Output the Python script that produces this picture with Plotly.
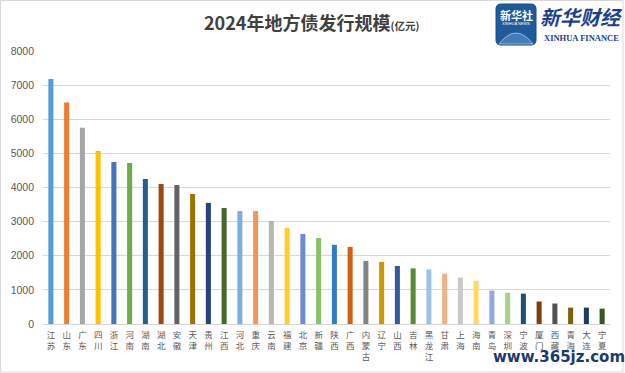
import plotly.graph_objects as go

categories = ["江苏", "山东", "广东", "四川", "浙江", "河南", "湖南", "湖北", "安徽", "天津",
              "贵州", "江西", "河北", "重庆", "云南", "福建", "北京", "新疆", "陕西", "广西",
              "内蒙古", "辽宁", "山西", "吉林", "黑龙江", "甘肃", "上海", "海南", "青岛", "深圳",
              "宁波", "厦门", "西藏", "青海", "大连", "宁夏"]
values = [7180, 6490, 5750, 5070, 4750, 4720, 4250, 4100, 4070, 3810,
          3550, 3400, 3310, 3310, 3020, 2820, 2640, 2520, 2320, 2260,
          1850, 1820, 1700, 1630, 1600, 1480, 1360, 1270, 980, 920,
          890, 660, 600, 480, 480, 450]
colors = ["#5B9BD5", "#ED7D31", "#A5A5A5", "#FFC000", "#4472C4", "#70AD47",
          "#255E91", "#9E480E", "#636363", "#997300", "#264478", "#43682B",
          "#7CAFDD", "#F1975A", "#B7B7B7", "#FFCD33", "#698ED0", "#8CC168",
          "#327DC2", "#D26012", "#848484", "#CC9A00", "#335AA1", "#5A8A39",
          "#9DC3E6", "#F4B183", "#C9C9C9", "#FFD966", "#8FAADC", "#A9D18E",
          "#1F4E79", "#843C0C", "#525252", "#7F6000", "#203864", "#375623"]
y_ticks = [0, 1000, 2000, 3000, 4000, 5000, 6000, 7000, 8000]

W, H = 625, 373
L, R, T, B = 43, 15, 51, 49
PW, PH = W - L - R, H - T - B


def px(x):
    return (x - L) / PW


def py(y):
    return (H - B - y) / PH


tick_text = ["<br>".join(list(c)) for c in categories]

fig = go.Figure(go.Bar(
    x=categories, y=values, marker=dict(color=colors, line=dict(width=0)),
    hoverinfo="x+y",
))

fig.update_layout(
    width=W, height=H,
    margin=dict(l=L, r=R, t=T, b=B, autoexpand=False),
    paper_bgcolor="white", plot_bgcolor="white",
    bargap=0.68, showlegend=False,
    font=dict(family="Noto Sans CJK SC", color="#595959"),
    xaxis=dict(
        tickmode="array", tickvals=categories, ticktext=tick_text,
        tickfont=dict(size=8.5, color="#595959", family="Noto Sans CJK SC"),
        showgrid=False, showline=True, linecolor="#D9D9D9", linewidth=1,
        ticks="", tickangle=0, ticklabelstandoff=3, automargin=False,
    ),
    yaxis=dict(
        range=[0, 8000], tickvals=y_ticks,
        tickfont=dict(size=10.5, color="#595959", family="Liberation Sans"),
        showgrid=True, gridcolor="#D9D9D9", gridwidth=1,
        zeroline=False, showline=False, ticks="", ticklabelstandoff=8,
        automargin=False,
    ),
)

# outer chart border
fig.add_shape(type="rect", xref="paper", yref="paper",
              x0=px(0.5), x1=px(623), y0=py(0.5), y1=py(372),
              line=dict(color="#D9D9D9", width=1), fillcolor="rgba(0,0,0,0)")

# title
fig.add_annotation(
    xref="paper", yref="paper", x=px(311), y=py(22), xanchor="center", yanchor="middle",
    text="<b>2024年地方债发行规模</b><span style='font-size:10.5px'><b>(亿元)</b></span>",
    showarrow=False, font=dict(size=18, color="#404040", family="Noto Sans CJK SC"),
)

# logo: 新华社 badge
x0, x1, y0, y1, r = 496, 536, 4, 45, 5
path = (f"M {px(x0+r)},{py(y0)} L {px(x1-r)},{py(y0)} Q {px(x1)},{py(y0)} {px(x1)},{py(y0+r)} "
        f"L {px(x1)},{py(y1-r)} Q {px(x1)},{py(y1)} {px(x1-r)},{py(y1)} "
        f"L {px(x0+r)},{py(y1)} Q {px(x0)},{py(y1)} {px(x0)},{py(y1-r)} "
        f"L {px(x0)},{py(y0+r)} Q {px(x0)},{py(y0)} {px(x0+r)},{py(y0)} Z")
fig.add_shape(type="path", xref="paper", yref="paper", path=path,
              fillcolor="#1E5A9C", line=dict(color="#174A84", width=1))
fig.add_shape(type="path", xref="paper", yref="paper",
              path=(f"M {px(499)},{py(44)} Q {px(516)},{py(22)} {px(533)},{py(44)} Z"),
              line=dict(color="rgba(255,255,255,0.5)", width=1), fillcolor="rgba(140,190,235,0.35)")
fig.add_annotation(xref="paper", yref="paper", x=px(516), y=py(15), xanchor="center", yanchor="middle",
                   text="<b>新华社</b>", showarrow=False,
                   font=dict(size=11, color="white", family="Noto Sans CJK SC"))
fig.add_annotation(xref="paper", yref="paper", x=px(516), y=py(24), xanchor="center", yanchor="middle",
                   text="XINHUA NEWS", showarrow=False,
                   font=dict(size=4, color="white", family="Liberation Sans"))
fig.add_annotation(xref="paper", yref="paper", x=px(581), y=py(16), xanchor="center", yanchor="middle",
                   text="<b><i>新华财经</i></b>", showarrow=False,
                   font=dict(size=20, color="#1B3F8F", family="Noto Sans CJK SC"))
fig.add_annotation(xref="paper", yref="paper", x=px(581), y=py(38), xanchor="center", yanchor="middle",
                   text="<b>XINHUA FINANCE</b>", showarrow=False,
                   font=dict(size=8.5, color="#1B3F8F", family="Liberation Serif"))

# watermark
fig.add_annotation(xref="paper", yref="paper", x=px(559), y=py(357), xanchor="center", yanchor="middle",
                   text="<b>www.365jz.com</b>", showarrow=False,
                   font=dict(size=15, color="#1A3A6E", family="DejaVu Sans"))

fig.write_html("out.html", config={"displayModeBar": False},
               post_script="document.body.style.margin='0';")
